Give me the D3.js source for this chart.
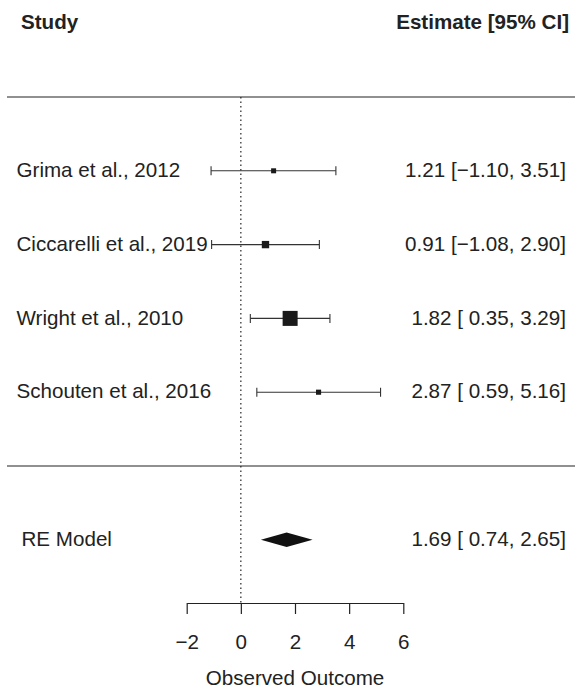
<!DOCTYPE html>
<html>
<head>
<meta charset="utf-8">
<script src="https://cdn.jsdelivr.net/npm/d3@7"></script>
<style>
  body { margin: 0; background: #fff; }
  text { font-family: "Liberation Sans", Arial, sans-serif; fill: #222; }
</style>
</head>
<body>
<div id="graph"></div>
<script>
  const studies = ["Grima et al., 2012", "Ciccarelli et al., 2019", "Wright et al., 2010", "Schouten et al., 2016"];
  const estimates = [1.21, 0.91, 1.82, 2.87];
  const ci_lower = [-1.10, -1.08, 0.35, 0.59];
  const ci_upper = [3.51, 2.90, 3.29, 5.16];
  const rows = [4, 3, 2, 1];

  const model_label = "RE Model";
  const model_est = 1.69;
  const model_lower = 0.74;
  const model_upper = 2.65;
  const model_row = -1;

  const tick_values = [-2, 0, 2, 4, 6];

  const width = 575;
  const height = 688;
  const font_size = 20.6;

  let svg = d3.select("#graph").append("svg")
    .attr("width", width)
    .attr("height", height);

  // outcome scale and row scale
  let x = d3.scaleLinear().domain([-2, 6]).range([186.7, 403.3]);
  let y = d3.scaleLinear().domain([0, 5]).range([466, 97]);

  const fmt = d3.format(".2f");
  const num = v => fmt(v).replace("-", "\u2212");
  const pad = v => v < 0 ? num(v) : " " + num(v);
  const ci_text = (e, lo, hi) => `${num(e)} [${pad(lo)}, ${num(hi)}]`;

  // approximate inverse-variance weights from the CI widths (for square size)
  const weights = ci_lower.map((lo, i) => 1 / Math.pow((ci_upper[i] - lo) / 3.92, 2));
  let size = d3.scaleLinear().domain(d3.extent(weights)).range([5, 15]);

  // header
  svg.append("text")
    .attr("x", 21).attr("y", y(6)).attr("dy", "0.3em")
    .style("font-size", font_size + "px").style("font-weight", "bold")
    .text("Study");
  svg.append("text")
    .attr("x", 569).attr("y", y(6)).attr("dy", "0.3em")
    .style("font-size", font_size + "px").style("font-weight", "bold")
    .style("text-anchor", "end")
    .text("Estimate [95% CI]");

  // horizontal separators
  svg.selectAll(".sep").data([5, 0]).enter().append("line")
    .attr("class", "sep")
    .attr("x1", 7).attr("x2", width)
    .attr("y1", d => y(d)).attr("y2", d => y(d))
    .style("stroke", "#222").style("stroke-width", 1.2);

  // reference line at 0
  svg.append("line")
    .attr("x1", x(0)).attr("x2", x(0))
    .attr("y1", y(5)).attr("y2", 603)
    .style("stroke", "#222").style("stroke-width", 1.2)
    .style("stroke-dasharray", "1.5,3");

  const data = studies.map((s, i) => ({
    study: s, est: estimates[i], lo: ci_lower[i], hi: ci_upper[i], row: rows[i], w: weights[i]
  }));

  let g = svg.append("g");

  g.selectAll(".ci").data(data).enter().append("line")
    .attr("class", "ci")
    .attr("x1", d => x(d.lo)).attr("x2", d => x(d.hi))
    .attr("y1", d => y(d.row)).attr("y2", d => y(d.row))
    .style("stroke", "#333").style("stroke-width", 1.1);

  g.selectAll(".cap").data(data.flatMap(d => [{v: d.lo, row: d.row}, {v: d.hi, row: d.row}]))
    .enter().append("line")
    .attr("class", "cap")
    .attr("x1", d => x(d.v)).attr("x2", d => x(d.v))
    .attr("y1", d => y(d.row) - 4.5).attr("y2", d => y(d.row) + 4.5)
    .style("stroke", "#333").style("stroke-width", 1.1);

  g.selectAll(".sq").data(data).enter().append("rect")
    .attr("class", "sq")
    .attr("x", d => x(d.est) - size(d.w) / 2)
    .attr("y", d => y(d.row) - size(d.w) / 2)
    .attr("width", d => size(d.w))
    .attr("height", d => size(d.w))
    .style("fill", "#1a1a1a");

  g.selectAll(".study_label").data(data).enter().append("text")
    .attr("class", "study_label")
    .attr("x", 16.5).attr("y", d => y(d.row)).attr("dy", "0.3em")
    .style("font-size", font_size + "px")
    .text(d => d.study);

  g.selectAll(".est_label").data(data).enter().append("text")
    .attr("class", "est_label")
    .attr("x", 566).attr("y", d => y(d.row)).attr("dy", "0.3em")
    .style("font-size", font_size + "px")
    .style("text-anchor", "end")
    .style("white-space", "pre")
    .attr("xml:space", "preserve")
    .text(d => ci_text(d.est, d.lo, d.hi));

  // summary diamond
  const ym = y(model_row);
  svg.append("polygon")
    .attr("points", [
      [x(model_lower), ym], [x(model_est), ym - 7.3],
      [x(model_upper), ym], [x(model_est), ym + 7.3]
    ].map(p => p.join(",")).join(" "))
    .style("fill", "#111");
  svg.append("text")
    .attr("x", 21.5).attr("y", ym).attr("dy", "0.3em")
    .style("font-size", font_size + "px")
    .text(model_label);
  svg.append("text")
    .attr("x", 566).attr("y", ym).attr("dy", "0.3em")
    .style("font-size", font_size + "px")
    .style("text-anchor", "end")
    .style("white-space", "pre")
    .attr("xml:space", "preserve")
    .text(ci_text(model_est, model_lower, model_upper));

  // x axis
  let x_axis = d3.axisBottom(x)
    .tickValues(tick_values)
    .tickSize(11)
    .tickSizeOuter(0)
    .tickPadding(20)
    .tickFormat(d => num(d).replace(".00", ""));
  let ax = svg.append("g")
    .attr("transform", "translate(0, 603)")
    .call(x_axis);
  ax.selectAll("path, line").style("stroke", "#222").style("stroke-width", 1.2);
  ax.selectAll("text")
    .style("font-size", font_size + "px")
    .style("font-family", "'Liberation Sans', Arial, sans-serif")
    .style("fill", "#222");

  svg.append("text")
    .attr("x", x(2)).attr("y", 685)
    .style("font-size", font_size + "px")
    .style("text-anchor", "middle")
    .text("Observed Outcome");
</script>
</body>
</html>
